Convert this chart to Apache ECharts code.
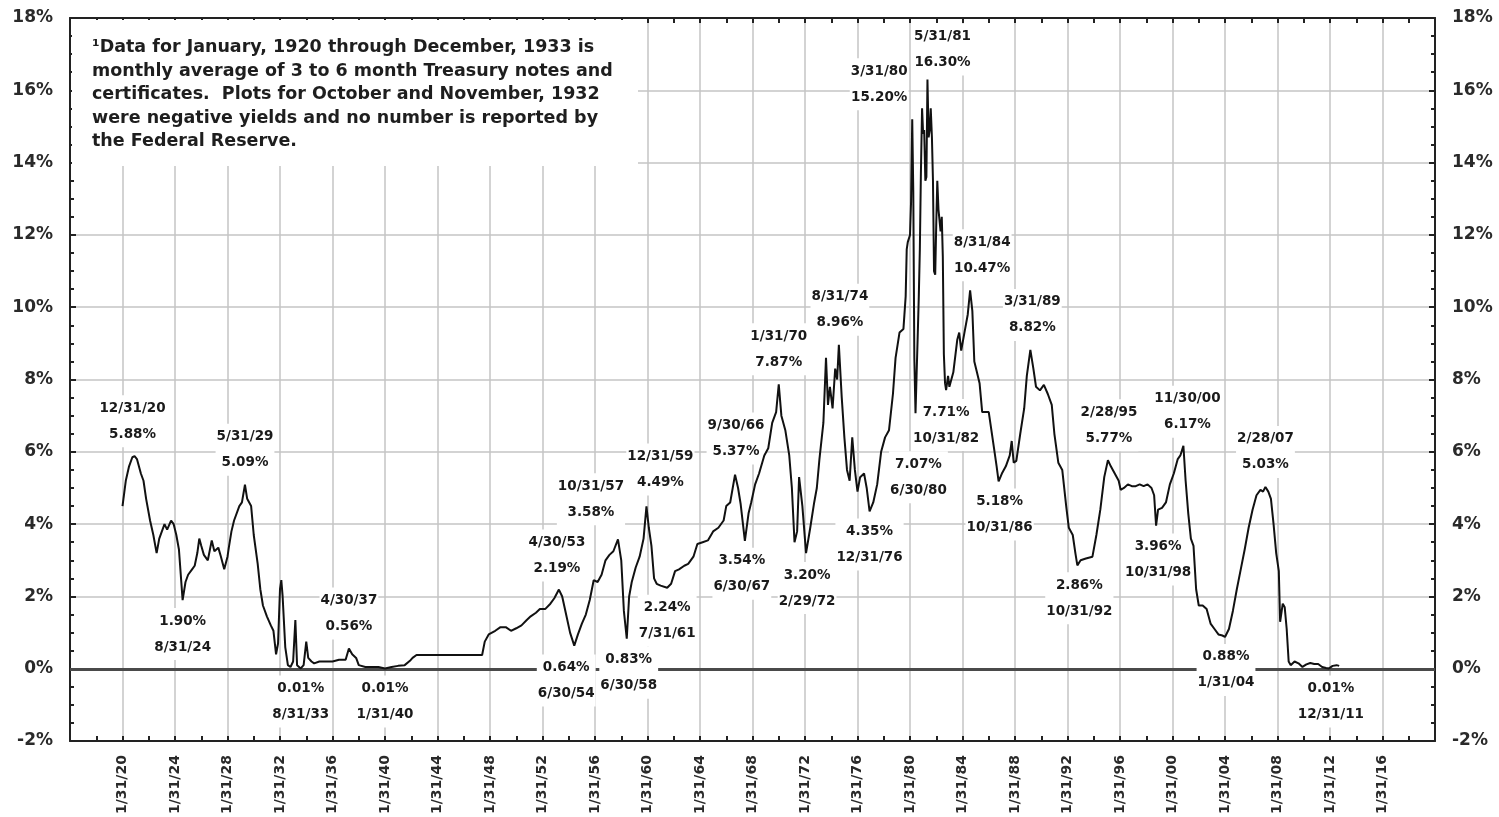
<!DOCTYPE html>
<html><head><meta charset="utf-8">
<script src="https://cdn.jsdelivr.net/npm/echarts@6/dist/echarts.min.js"></script>
<style>html,body{margin:0;padding:0;background:#fff}#c{width:1499px;height:817px}</style>
</head><body><div id="c"></div>
<script>
// ---- DATA ----
// decimal years (m/31/yy -> yy + (m-1)/12)
const lineDates = [
1920.0,1920.25,1920.5,1920.75,1920.92,1921.1,1921.4,1921.6,1921.8,1922.1,
1922.35,1922.6,1922.8,1923.0,1923.2,1923.4,1923.7,1923.9,1924.1,1924.3,
1924.58,1924.8,1925.0,1925.3,1925.5,1925.7,1925.85,1926.0,1926.2,1926.5,
1926.8,1927.0,1927.3,1927.5,1927.75,1928.0,1928.1,1928.3,1928.5,1928.9,
1929.1,1929.33,1929.5,1929.8,1930.0,1930.3,1930.5,1930.7,1931.0,1931.3,
1931.5,1931.7,1931.85,1932.0,1932.1,1932.2,1932.4,1932.6,1932.8,1933.0,
1933.17,1933.3,1933.58,1933.8,1934.0,1934.15,1934.4,1934.6,1935.0,1935.5,
1936.0,1936.5,1937.0,1937.25,1937.5,1937.8,1938.0,1938.5,1939.0,1939.5,
1940.0,1940.5,1941.0,1941.5,1941.9,1942.1,1942.4,1947.4,1947.6,1947.9,
1948.4,1948.8,1949.2,1949.6,1950.0,1950.4,1950.8,1951.1,1951.5,1951.8,
1952.2,1952.6,1952.9,1953.25,1953.5,1953.8,1954.1,1954.42,1954.7,1955.0,
1955.3,1955.6,1955.9,1956.2,1956.5,1956.8,1957.1,1957.4,1957.75,1958.0,
1958.2,1958.42,1958.6,1958.8,1959.1,1959.4,1959.7,1959.92,1960.1,1960.3,
1960.5,1960.7,1961.0,1961.5,1961.8,1962.1,1962.4,1962.8,1963.1,1963.5,
1963.8,1964.2,1964.6,1965.0,1965.4,1965.8,1966.0,1966.3,1966.67,1966.9,
1967.1,1967.42,1967.7,1967.9,1968.2,1968.5,1968.9,1969.2,1969.5,1969.8,
1970.0,1970.2,1970.5,1970.8,1971.0,1971.2,1971.4,1971.55,1971.8,1972.08,
1972.4,1972.7,1972.9,1973.1,1973.4,1973.6,1973.75,1973.9,1974.1,1974.3,
1974.45,1974.58,1974.8,1975.0,1975.2,1975.4,1975.6,1975.8,1976.0,1976.2,
1976.5,1976.7,1976.92,1977.2,1977.5,1977.8,1978.1,1978.4,1978.7,1978.9,
1979.2,1979.5,1979.67,1979.75,1979.83,1980.0,1980.08,1980.17,1980.25,1980.33,
1980.42,1980.5,1980.58,1980.67,1980.75,1980.83,1980.92,1981.0,1981.08,1981.17,
1981.25,1981.33,1981.42,1981.5,1981.58,1981.67,1981.75,1981.83,1981.92,1982.0,
1982.08,1982.17,1982.25,1982.33,1982.42,1982.5,1982.58,1982.67,1982.75,1982.9,
1983.0,1983.3,1983.6,1983.75,1983.9,1984.2,1984.4,1984.58,1984.75,1984.9,
1985.1,1985.3,1985.5,1985.8,1986.0,1986.2,1986.4,1986.6,1986.75,1987.0,
1987.3,1987.6,1987.75,1987.9,1988.1,1988.4,1988.7,1988.9,1989.17,1989.4,
1989.6,1989.9,1990.2,1990.5,1990.8,1991.0,1991.3,1991.6,1991.9,1992.1,
1992.4,1992.6,1992.75,1993.0,1993.4,1993.9,1994.2,1994.5,1994.8,1995.08,
1995.3,1995.6,1995.9,1996.05,1996.3,1996.6,1996.9,1997.2,1997.5,1997.8,
1998.1,1998.4,1998.6,1998.75,1998.9,1999.2,1999.5,1999.8,2000.1,2000.4,
2000.6,2000.83,2001.0,2001.2,2001.4,2001.6,2001.8,2002.0,2002.3,2002.6,
2002.9,2003.2,2003.5,2003.8,2004.0,2004.3,2004.6,2004.9,2005.2,2005.5,
2005.8,2006.1,2006.4,2006.7,2006.9,2007.08,2007.3,2007.5,2007.7,2007.9,
2008.1,2008.2,2008.3,2008.4,2008.55,2008.7,2008.85,2009.0,2009.3,2009.6,
2009.9,2010.2,2010.5,2010.8,2011.1,2011.4,2011.7,2011.92,2012.2,2012.5,
2012.7
];
const lineYields = [
4.5,5.2,5.6,5.85,5.88,5.8,5.4,5.2,4.7,4.1,
3.7,3.2,3.6,3.8,4.0,3.85,4.1,4.0,3.7,3.3,
1.9,2.4,2.6,2.75,2.85,3.2,3.6,3.4,3.15,3.0,
3.55,3.25,3.35,3.1,2.75,3.1,3.35,3.8,4.1,4.5,
4.6,5.09,4.7,4.5,3.7,2.9,2.2,1.75,1.45,1.2,
1.05,0.4,0.7,2.2,2.45,2.0,0.6,0.1,0.05,0.2,
1.35,0.1,0.01,0.1,0.75,0.3,0.2,0.15,0.2,0.2,
0.2,0.25,0.25,0.56,0.4,0.3,0.1,0.05,0.05,0.05,
0.01,0.05,0.08,0.1,0.22,0.3,0.38,0.38,0.75,0.95,
1.05,1.15,1.15,1.05,1.12,1.2,1.35,1.45,1.55,1.65,
1.65,1.8,1.95,2.19,2.0,1.5,1.0,0.64,0.95,1.25,
1.5,1.9,2.45,2.4,2.6,3.0,3.15,3.25,3.58,3.0,
1.6,0.83,2.0,2.4,2.8,3.1,3.6,4.49,3.9,3.4,
2.5,2.35,2.3,2.24,2.35,2.7,2.75,2.85,2.9,3.1,
3.45,3.5,3.55,3.8,3.9,4.1,4.5,4.6,5.37,5.0,
4.55,3.54,4.3,4.6,5.1,5.4,5.9,6.1,6.8,7.1,
7.87,7.0,6.6,5.9,5.0,3.5,3.8,5.3,4.5,3.2,
3.9,4.6,5.0,5.8,6.8,8.6,7.3,7.8,7.2,8.3,
8.0,8.96,7.5,6.4,5.5,5.2,6.4,5.5,4.9,5.3,
5.4,5.0,4.35,4.6,5.1,6.0,6.4,6.6,7.6,8.6,
9.3,9.4,10.3,11.6,11.8,12.0,12.9,15.2,13.2,8.6,
7.07,8.1,9.1,10.3,11.6,13.7,15.5,14.8,14.9,13.5,
13.6,16.3,14.7,14.9,15.5,14.7,13.5,11.0,10.9,12.3,
13.5,12.7,12.7,12.1,12.5,11.4,8.7,7.9,7.71,8.1,
7.8,8.2,9.1,9.3,8.8,9.4,9.8,10.47,9.9,8.5,
8.2,7.9,7.1,7.1,7.1,6.6,6.1,5.6,5.18,5.4,
5.6,5.9,6.3,5.7,5.75,6.5,7.2,8.1,8.82,8.3,
7.8,7.7,7.85,7.6,7.3,6.5,5.7,5.5,4.5,3.9,
3.7,3.2,2.86,3.0,3.05,3.1,3.7,4.4,5.3,5.77,
5.6,5.4,5.2,4.95,5.0,5.1,5.05,5.05,5.1,5.05,
5.1,5.0,4.8,3.96,4.4,4.45,4.6,5.1,5.4,5.8,
5.9,6.17,5.2,4.3,3.6,3.4,2.2,1.75,1.75,1.65,
1.25,1.1,0.95,0.92,0.88,1.1,1.6,2.2,2.75,3.3,
3.9,4.4,4.8,4.95,4.9,5.03,4.9,4.7,4.0,3.2,
2.7,1.3,1.3,1.8,1.7,1.1,0.2,0.1,0.2,0.15,
0.05,0.12,0.16,0.13,0.13,0.05,0.02,0.01,0.08,0.1,
0.08
];
const xTickLabels = ['1/31/20','1/31/24','1/31/28','1/31/32','1/31/36','1/31/40','1/31/44','1/31/48',
  '1/31/52','1/31/56','1/31/60','1/31/64','1/31/68','1/31/72','1/31/76','1/31/80','1/31/84',
  '1/31/88','1/31/92','1/31/96','1/31/00','1/31/04','1/31/08','1/31/12','1/31/16'];
const yTickLabels = ['-2%','0%','2%','4%','6%','8%','10%','12%','14%','16%','18%'];
const annoDates = ['12/31/20','8/31/24','5/31/29','8/31/33','4/30/37','1/31/40','4/30/53','6/30/54',
  '10/31/57','6/30/58','12/31/59','7/31/61','9/30/66','6/30/67','1/31/70','2/29/72','8/31/74',
  '12/31/76','3/31/80','6/30/80','5/31/81','10/31/82','8/31/84','10/31/86','3/31/89','10/31/92',
  '2/28/95','10/31/98','11/30/00','1/31/04','2/28/07','12/31/11'];
const annoValues = [5.88,1.90,5.09,0.01,0.56,0.01,2.19,0.64,3.58,0.83,4.49,2.24,5.37,3.54,7.87,3.20,
  8.96,4.35,15.20,7.07,16.30,7.71,10.47,5.18,8.82,2.86,5.77,3.96,6.17,0.88,5.03,0.01];
const noteLines = [
  '\u00B9Data for January, 1920 through December, 1933 is',
  'monthly average of 3 to 6 month Treasury notes and',
  'certificates.  Plots for October and November, 1932',
  'were negative yields and no number is reported by',
  'the Federal Reserve.'
];

// ---- label placement (pixel offsets from the annotated point) ----
const annoOffsets = [[-2,-35],[0,34],[0,-35],[0,33],[0,-35],[0,33],[-2,-34],[-8,35],
  [-27,-40],[2,34],[14,-37],[0,33],[1,-36],[-3,33],[0,-35],[1,35],[1,-35],
  [0,33],[-33,-35],[3,64],[15,-30],[0,35],[12,-35],[1,33],[2,-35],[2,33],
  [1,-35],[2,34],[4,-34],[1,33],[0,-35],[2,33]];

function dateToYear(s){
  const p = s.split('/').map(Number);
  const yr = p[2] < 20 ? 2000 + p[2] : 1900 + p[2];
  return yr + (p[0] - 1) / 12;
}

const FONT = 'DejaVu Sans';
const chart = echarts.init(document.getElementById('c'), null, {renderer:'canvas'});

const axisLineStyle = {color:'#222', width:2};
const xAxisCommon = {
  type:'value', min:1916, max:2020, interval:4,
  axisLine:{show:true, onZero:false, lineStyle:axisLineStyle},
  axisTick:{show:true, inside:true, length:5, lineStyle:axisLineStyle},
  minorTick:{show:true, splitNumber:2, length:5, lineStyle:axisLineStyle},
  minorSplitLine:{show:false}
};
const yAxisCommon = {
  type:'value', min:-2, max:18, interval:2,
  axisLine:{show:true, onZero:false, lineStyle:axisLineStyle},
  axisTick:{show:true, inside:true, length:6, lineStyle:axisLineStyle},
  minorTick:{show:true, splitNumber:4, length:4, lineStyle:axisLineStyle},
  minorSplitLine:{show:false}
};
const yLabel = {
  fontFamily:FONT, fontWeight:'bold', fontSize:17, color:'#2a2a2a', margin:17,
  formatter: v => yTickLabels[Math.round((v + 2) / 2)] || ''
};

const option = {
  animation:false,
  backgroundColor:'#fff',
  grid:{left:70, right:64, top:18, bottom:73, containLabel:false},
  xAxis:[
    Object.assign({}, xAxisCommon, {
      position:'bottom',
      splitLine:{show:true, lineStyle:{color:'#c4c4c4', width:1.5}},
      axisLabel:{rotate:90, fontFamily:FONT, fontWeight:'bold', fontSize:14, color:'#2a2a2a', margin:14,
        formatter: v => { const i = Math.round((v - 1920) / 4); return (i >= 0 && i < xTickLabels.length) ? xTickLabels[i] : ''; }}
    }),
    Object.assign({}, xAxisCommon, {position:'top', splitLine:{show:false}, axisLabel:{show:false}})
  ],
  yAxis:[
    Object.assign({}, yAxisCommon, {position:'left',
      splitLine:{show:true, lineStyle:{color:'#c4c4c4', width:1.5}}, axisLabel:yLabel}),
    Object.assign({}, yAxisCommon, {position:'right', splitLine:{show:false}, axisLabel:yLabel})
  ],
  series:[
    {
      name:'Yield', type:'line', xAxisIndex:0, yAxisIndex:0, zlevel:1,
      data: lineDates.map((x, i) => [x, lineYields[i]]),
      showSymbol:false, symbol:'none', z:3,
      lineStyle:{color:'#111', width:2}
    },
    {
      name:'Annotations', type:'scatter', xAxisIndex:0, yAxisIndex:0, z:10,
      symbolSize:0.1, itemStyle:{color:'transparent'}, silent:true,
      data: annoDates.map((d, i) => {
        const val = annoValues[i].toFixed(2) + '%';
        const above = annoOffsets[i][1] < 0;
        return {
          value:[dateToYear(d), annoValues[i]],
          label:{offset:annoOffsets[i], formatter: above ? (d + '\n' + val) : (val + '\n' + d)}
        };
      }),
      label:{show:true, position:'inside', fontFamily:FONT, fontWeight:'bold', fontSize:13.5,
        color:'#1a1a1a', opacity:1, lineHeight:26, backgroundColor:'#fff', padding:[0,1]},
      markLine:{
        silent:true, symbol:'none', label:{show:false}, z:1,
        lineStyle:{color:'#4a4a4a', width:3, type:'solid'},
        data:[{yAxis:0}]
      }
    }
  ],
  graphic:[
    {type:'rect', left:72, top:20, z:50, shape:{width:566, height:146}, style:{fill:'#fff'}},
    {type:'text', left:92, top:36, z:51,
      style:{text:noteLines.join('\n'), font:'bold 17.5px "DejaVu Sans"', fill:'#1e1e1e', lineHeight:23.5}}
  ]
};
chart.setOption(option);
</script>
</body></html>
